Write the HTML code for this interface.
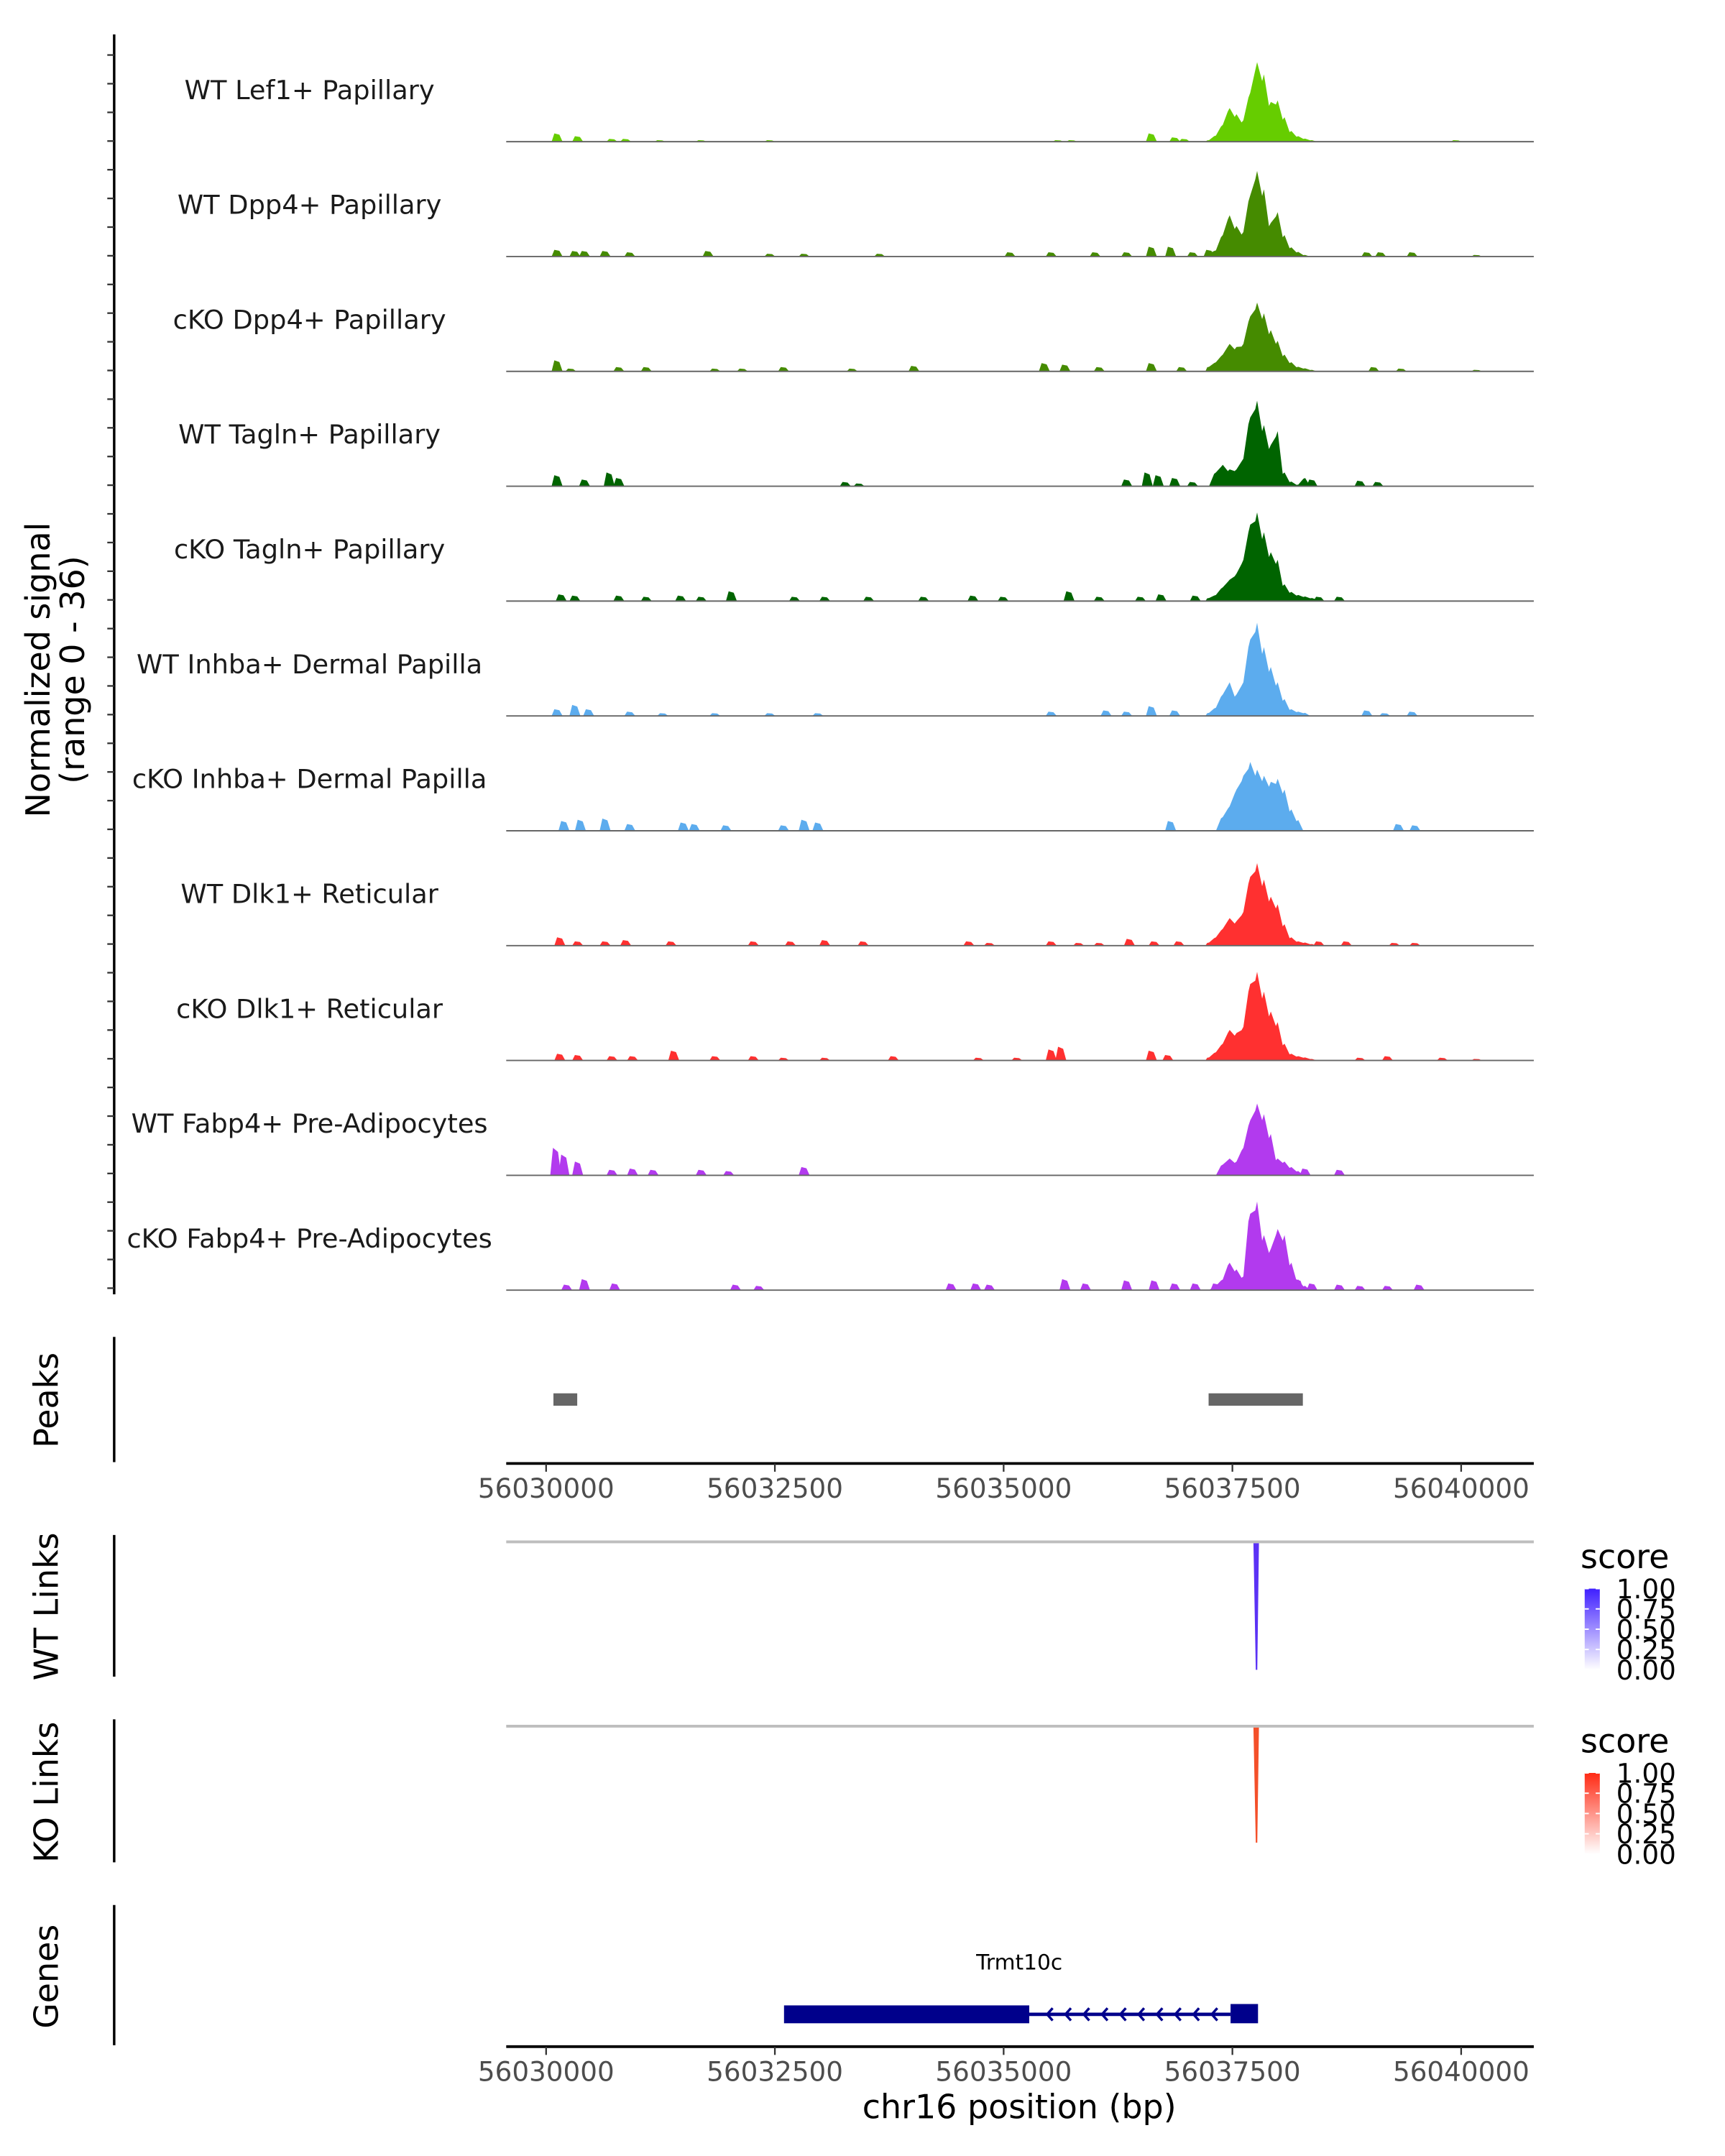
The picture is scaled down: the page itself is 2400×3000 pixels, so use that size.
<!DOCTYPE html>
<html><head><meta charset="utf-8"><style>
html,body{margin:0;padding:0;background:#fff;}
svg{display:block;}
text{font-family:"DejaVu Sans","Liberation Sans",sans-serif;}
</style></head><body>
<svg id="chart" width="2400" height="3000" viewBox="0 0 1254 1567.5" preserveAspectRatio="none" xmlns="http://www.w3.org/2000/svg">
<defs>
<linearGradient id="gWT" x1="0" y1="1" x2="0" y2="0"><stop offset="0" stop-color="#ffffff"/><stop offset="1" stop-color="#3f1fff"/></linearGradient>
<linearGradient id="gKO" x1="0" y1="1" x2="0" y2="0"><stop offset="0" stop-color="#ffffff"/><stop offset="1" stop-color="#ff2a14"/></linearGradient>
</defs>
<g id="tracks"></g>
<g id="rest"></g>
</svg>
<script>
const regionStart = 56030000;
const trackNames = ["WT Lef1+ Papillary","WT Dpp4+ Papillary","cKO Dpp4+ Papillary","WT Tagln+ Papillary","cKO Tagln+ Papillary","WT Inhba+ Dermal Papilla","cKO Inhba+ Dermal Papilla","WT Dlk1+ Reticular","cKO Dlk1+ Reticular","WT Fabp4+ Pre-Adipocytes","cKO Fabp4+ Pre-Adipocytes"];
const trackColors = ["#66cd00","#458b00","#458b00","#006400","#006400","#5cacee","#5cacee","#ff3030","#ff3030","#b23aee","#b23aee"];
const mainStart = 56037245;
const mainBin = 75;
const mainVals = [
[0.5,2,5.5,11,9,7,16,26,22,13,13.5,8,3.5,1.8,1,0.5,0],
[1,2,7,13.5,10,8,20,28,22,11,14.5,7,3,1.5,0.5,0,0],
[1.5,3,5.5,9,8,9,18,22.5,19,13.5,10,5.5,3,1.5,1,0.5,0],
[0,4.5,7,5.5,5.5,9,22.5,28,20,13.5,18,4.5,1.5,0.5,2.7,0,0],
[1,2,4.5,7,9,13.5,25,29,22.5,16,13.5,5.5,3,2,1.5,1,0.5],
[1,2.7,7,11,7,11,25,30.5,22.5,16,11,5.5,2.2,1.4,1,0,0],
[0,0,4.5,8,13.5,18,22.5,20,18,16,17,13.5,7,3.5,0,0,0],
[1,2.7,5.5,9,8,11,22.5,27,21.6,16,13.5,7,2.7,1.4,1,0.5,0],
[1,2.7,5.5,10,9,11,25,29,22.5,16,12.5,5.5,2.2,1.4,1,0.5,0],
[0,0,3.5,5.5,4.5,9,18,23.5,20,13.5,5.5,4.5,2.7,1.4,0,0,0],
[0,1.4,3.5,9,6.8,4.5,25,29,18,13.5,20,18,9,3.5,1.4,0,0]
];
const minorPos = [
[120,345,720,870,1245,1695,2445,5595,5745,6615,6870,6975,9945],
[120,315,420,645,915,1770,2445,2820,3645,5070,5520,6000,6345,6615,6825,7065,7245,8970,9120,9465,10170],
[120,270,795,1095,1845,2145,2595,3345,4020,5445,5670,6045,6615,6945,9045,9345,10170],
[120,420,690,795,3270,3420,6345,6570,6690,6870,7065,8370,8895,9090],
[165,315,795,1095,1470,1695,2025,2715,3045,3525,4125,4665,4995,5715,6045,6495,6720,7095,7320,8445,8670],
[120,315,465,915,1275,1845,2445,2970,5520,6120,6345,6615,6870,8970,9165,9465],
[195,375,645,915,1500,1620,1965,2595,2820,2970,6825,9315,9495],
[150,345,645,870,1365,2265,2670,3045,3465,4620,4845,5520,5820,6045,6375,6645,6915,8445,8745,9270,9495],
[150,345,720,945,1395,1845,2265,2595,3045,3795,4725,5145,5520,5625,6615,6795,8895,9195,9795,10170],
[105,195,345,720,945,1170,1695,1995,2820,8295,8670],
[225,420,750,2070,2325,4425,4695,4845,5670,5895,6345,6645,6870,7095,7320,8220,8370,8670,8895,9195,9540]
];
const minorVal = [
[2.7,1.8,0.9,0.9,0.5,0.5,0.5,0.5,0.5,2.7,1.4,0.9,0.5],
[2.2,1.8,1.8,1.8,1.4,1.8,0.9,0.9,0.9,1.4,1.4,1.4,1.4,3.2,3.2,1.4,2.2,1.4,1.4,1.4,0.5],
[3.6,0.9,1.4,1.4,0.9,0.9,1.4,0.9,1.8,2.7,2.2,1.4,2.7,1.4,1.4,0.9,0.5],
[3.6,2.2,4.5,2.7,1.4,0.9,2.2,4.5,3.6,2.7,1.4,2.2,1.8,1.4],
[2.2,1.8,1.8,1.4,1.8,1.4,3.2,1.4,1.4,1.4,1.4,1.8,1.4,3.2,1.4,1.4,2.2,1.8,1.4,1.4,1.4],
[2.2,3.6,2.2,1.4,0.9,0.9,0.9,0.9,1.4,1.8,1.4,3.2,1.8,1.8,0.9,1.4],
[3.2,3.6,4,2.2,2.7,2.2,1.8,1.8,3.6,2.7,3.2,2.2,1.8],
[2.7,1.4,1.4,1.8,1.4,1.4,1.4,1.8,1.4,1.4,0.9,1.4,0.9,0.9,2.2,1.4,1.4,1.4,1.4,0.9,0.9],
[2.2,1.8,1.4,1.4,3.2,1.4,1.4,0.9,0.9,1.4,0.9,0.9,3.6,4.5,3.2,1.8,0.9,1.4,0.9,0.5],
[9,6.8,4.5,1.8,2.2,1.8,1.8,1.4,2.7,2.2,1.8],
[1.8,3.6,2.2,1.8,1.4,2.2,2.2,1.8,3.6,2.2,3.2,3.2,2.2,2.2,2.2,3.6,2.2,1.8,1.4,1.4,1.8]
];
const xTicks = [56030000,56032500,56035000,56037500,56040000];
const peakStarts = [56030080,56037240];
const peakEnds = [56030340,56038270];
const wtLinkPos = [56037760];
const wtLinkScore = [1.0];
const koLinkPos = [56037760];
const koLinkScore = [0.9];
const scoreTicks = ["1.00","0.75","0.50","0.25","0.00"];
const geneStart = 56032600, geneEnd = 56037780, cdsEnd = 56035280, utrStart = 56037480;

const NS="http://www.w3.org/2000/svg";
const X0=368,X1=1115;
function xs(p){return 397+(p-56030000)*(166.3/2500);}
function ys(v){return v*(80/36);}
function mk(tag,attrs,parent){const e=document.createElementNS(NS,tag);for(const k in attrs)e.setAttribute(k,attrs[k]);parent.appendChild(e);return e;}
const T=document.getElementById('tracks'), R=document.getElementById('rest');
const base0=103, step=83.5;

let ax=mk('line',{x1:83,y1:25,x2:83,y2:941,stroke:'#000','stroke-width':1.8},T);


for(let y=40;y<940;y+=20.85){let t=mk('line',{x1:78,y1:y,x2:83,y2:y,stroke:'#333','stroke-width':1.2},T);

}
let yt=mk('text',{x:0,y:0,'font-size':24,'text-anchor':'middle',transform:'translate(42,487) rotate(-90)'},T);


mk('tspan',{x:0,dy:-6},yt).textContent='Normalized signal';
mk('tspan',{x:0,dy:25},yt).textContent='(range 0 - 36)';

trackNames.forEach((name,i)=>{
  const b=base0+i*step;
  const g=mk('g',{},T);
  
  
  const col=trackColors[i];
  minorPos[i].forEach((p,j)=>{
    const pos=regionStart+p, h=ys(minorVal[i][j]);
    const pg=mk('polygon',{points:`${xs(pos-60)},${b} ${xs(pos-30)},${b-h} ${xs(pos+25)},${b-h*0.85} ${xs(pos+60)},${b}`,fill:col},g);
    
    
  });
  let pts=[`${xs(mainStart-40)},${b}`];
  mainVals[i].forEach((v,k)=>{const p=mainStart+k*mainBin;pts.push(`${xs(p-20)},${b-ys(v)*0.9}`);pts.push(`${xs(p)},${b-ys(v)}`);});
  pts.push(`${xs(mainStart+(mainVals[i].length)*mainBin)},${b}`);
  const mp=mk('polygon',{points:pts.join(' '),fill:col},g);
  
  
  const bl=mk('line',{x1:X0,y1:b,x2:X1,y2:b,stroke:'#666','stroke-width':1},g);
  
  
  const lb=mk('text',{x:225,y:b-31,'font-size':19.2,'text-anchor':'middle',fill:'#1a1a1a'},g);
  lb.textContent=name;
  
  
});

function panelAxis(y1,y2,label,cy){
  const l=mk('line',{x1:83,y1:y1,x2:83,y2:y2,stroke:'#000','stroke-width':1.8},R);
  
  
  const t=mk('text',{x:0,y:0,'font-size':24,'text-anchor':'middle',transform:`translate(42,${cy}) rotate(-90)`},R);
  t.textContent=label;
  
  
}
function xAxis(y,name){
  const l=mk('line',{x1:X0,y1:y,x2:X1,y2:y,stroke:'#000','stroke-width':2},R);
  
  
  xTicks.forEach(v=>{
    const t=mk('line',{x1:xs(v),y1:y,x2:xs(v),y2:y+6,stroke:'#333','stroke-width':1.2},R);
    
    
    const tl=mk('text',{x:xs(v),y:y+25,'font-size':19.5,'text-anchor':'middle',fill:'#4d4d4d'},R);
    tl.textContent=v;
    
    
  });
}
panelAxis(972,1063,'Peaks',1018);
peakStarts.forEach((s,i)=>{
  const r=mk('rect',{x:xs(s),y:1013,width:xs(peakEnds[i])-xs(s),height:9,fill:'#666'},R);
  
  
});
xAxis(1064,'peaks-x-axis');

function linkPanel(top,bottom,label,cy,pos,score,grad,col){
  panelAxis(top-5,bottom+4,label,cy);
  const l=mk('line',{x1:X0,y1:top,x2:X1,y2:top,stroke:'#bebebe','stroke-width':2},R);
  
  
  pos.forEach((p,i)=>{
    const x=xs(p), d=(bottom-top-2)*score[i];
    const lp=mk('polygon',{points:`${x-2},${top+1} ${x+2},${top+1} ${x+0.8},${top+1+d} ${x-0.3},${top+1+d}`,fill:col},R);
    
    
  });
  const sc=mk('text',{x:1149,y:top+19,'font-size':24},R);sc.textContent='score';
  
  
  const cb=mk('rect',{x:1152,y:top+34,width:11,height:59,fill:`url(#${grad})`},R);
  
  
  scoreTicks.forEach((s,i)=>{
    const yy=top+34+i*14.75;
    const tk=mk('text',{x:1175,y:yy+7,'font-size':19.5},R);tk.textContent=s;
    
    
    mk('line',{x1:1152,y1:yy,x2:1155,y2:yy,stroke:'#fff','stroke-width':1},R);
    mk('line',{x1:1160,y1:yy,x2:1163,y2:yy,stroke:'#fff','stroke-width':1},R);
  });
}
linkPanel(1121,1215,'WT Links',1168,wtLinkPos,wtLinkScore,'gWT','#5b32f5');
linkPanel(1255,1350,'KO Links',1303,koLinkPos,koLinkScore,'gKO','#f4502a');

panelAxis(1385,1487,'Genes',1437);
const gn=mk('text',{x:741,y:1432,'font-size':15.5,'text-anchor':'middle'},R);gn.textContent='Trmt10c';


const intr=mk('line',{x1:xs(cdsEnd),y1:1464.5,x2:xs(utrStart),y2:1464.5,stroke:'#00008b','stroke-width':2.5},R);


for(let x=xs(cdsEnd)+14;x<xs(utrStart)-4;x+=13.3){
  const ch=mk('polyline',{points:`${x+3},${1460} ${x-1},${1464.5} ${x+3},${1469}`,fill:'none',stroke:'#00008b','stroke-width':1.8},R);
  
  
}
const ex1=mk('rect',{x:xs(geneStart),y:1458,width:xs(cdsEnd)-xs(geneStart),height:13,fill:'#00008b'},R);


const ex2=mk('rect',{x:xs(utrStart),y:1457,width:xs(geneEnd)-xs(utrStart),height:14,fill:'#00008b'},R);


xAxis(1488,'genes-x-axis');
const xt=mk('text',{x:741,y:1540,'font-size':24,'text-anchor':'middle'},R);xt.textContent='chr16 position (bp)';


</script>
</body></html>
